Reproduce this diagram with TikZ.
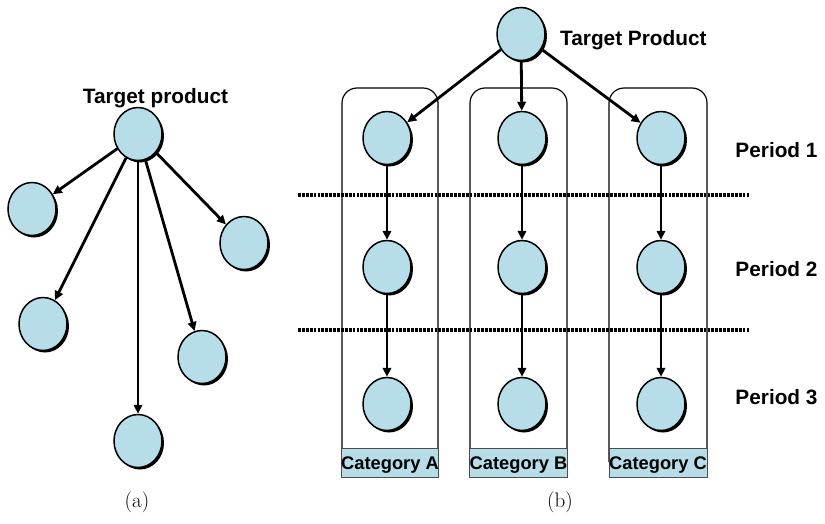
\documentclass[tikz,border=0pt]{standalone}
\usepackage{fontspec}
\newfontfamily\arial{Liberation Sans}
\usetikzlibrary{shapes.geometric, arrows.meta, shadows}
\definecolor{nodeblue}{RGB}{182,221,232}
\begin{document}
\begin{tikzpicture}[x=1pt, y=-1pt,
  pnode/.style={ellipse, draw=black, line width=1.5pt, fill=nodeblue,
    minimum width=48pt, minimum height=53pt, inner sep=0pt,
    drop shadow={shadow xshift=2pt, shadow yshift=-2pt, fill=black, opacity=1}},
  arr/.style={line width=2.8pt, -{Triangle[length=9pt,width=8.5pt]}},
  lbl/.style={font=\arial\bfseries\fontsize{20.8}{25}\selectfont, inner sep=0pt},
  band/.style={draw=black!70, line width=0.9pt, fill=nodeblue, minimum width=96pt, minimum height=29pt,
    inner sep=0pt, text height=13pt, text depth=0pt, font=\arial\bfseries\fontsize{18.3}{22}\selectfont},
  boxline/.style={line width=1.2pt, rounded corners=15pt},
  dotline/.style={line width=3.2pt, dash pattern=on 2.8pt off 1.1pt},
  captxt/.style={font=\fontsize{21}{25}\selectfont, inner sep=0pt}
]
\useasboundingbox (0,0) rectangle (825,523);

% ---------------- (a) ----------------
\node[pnode] (ta) at (138,134) {};
\node[pnode] (l1) at (32,209) {};
\node[pnode] (r1) at (244,243) {};
\node[pnode] (l2) at (43,324) {};
\node[pnode] (r2) at (202,357) {};
\node[pnode] (bt) at (138,441) {};
\node[lbl, anchor=base] (talbl) at (155.5,103) {Target product};
\draw[arr] (ta) -- (l1);
\draw[arr] (ta) -- (r1);
\draw[arr] (ta) -- (l2);
\draw[arr] (ta) -- (r2);
\draw[arr] (ta) -- (bt);
\node[captxt] (capa) at (137,502) {(a)};

% ---------------- (b) ----------------
% category boxes
\draw[boxline] (342,462) -- (342,88) -- (438,88) -- (438,462);
\draw[boxline] (470,462) -- (470,88) -- (567,88) -- (567,462);
\draw[boxline] (609,462) -- (609,88) -- (707,88) -- (707,462);
\node[band] (ca) at (390,462.5) {Category A};
\node[band, minimum width=97pt] (cb) at (518.5,462.5) {Category B};
\node[band, minimum width=98pt] (cc) at (658,462.5) {Category C};

% dotted period separators
\coordinate (d1s) at (298,195);
\coordinate (d1e) at (750,195);
\coordinate (d2s) at (298,330);
\coordinate (d2e) at (750,330);
\draw[dotline] (d1s) -- (d1e);
\draw[dotline] (d2s) -- (d2e);

\node[pnode] (tb) at (521,34) {};
\node[lbl, anchor=base west] (tblbl) at (560,45) {Target Product};

\node[pnode] (a1) at (387,138) {};
\node[pnode] (a2) at (387,267) {};
\node[pnode] (a3) at (387,404) {};
\node[pnode] (b1) at (522,138) {};
\node[pnode] (b2) at (522,267) {};
\node[pnode] (b3) at (522,404) {};
\node[pnode] (c1) at (661,138) {};
\node[pnode] (c2) at (661,267) {};
\node[pnode] (c3) at (661,404) {};

\draw[arr] (tb) -- (a1);
\draw[arr] (tb) -- (b1);
\draw[arr] (tb) -- (c1);
\draw[arr] (a1) -- (a2);
\draw[arr] (a2) -- (a3);
\draw[arr] (b1) -- (b2);
\draw[arr] (b2) -- (b3);
\draw[arr] (c1) -- (c2);
\draw[arr] (c2) -- (c3);

\node[lbl, anchor=base] (p1) at (776.5,157) {Period 1};
\node[lbl, anchor=base] (p2) at (776.5,276) {Period 2};
\node[lbl, anchor=base] (p3) at (776.5,404) {Period 3};

\node[captxt] (capb) at (560,502) {(b)};
\end{tikzpicture}
\end{document}
